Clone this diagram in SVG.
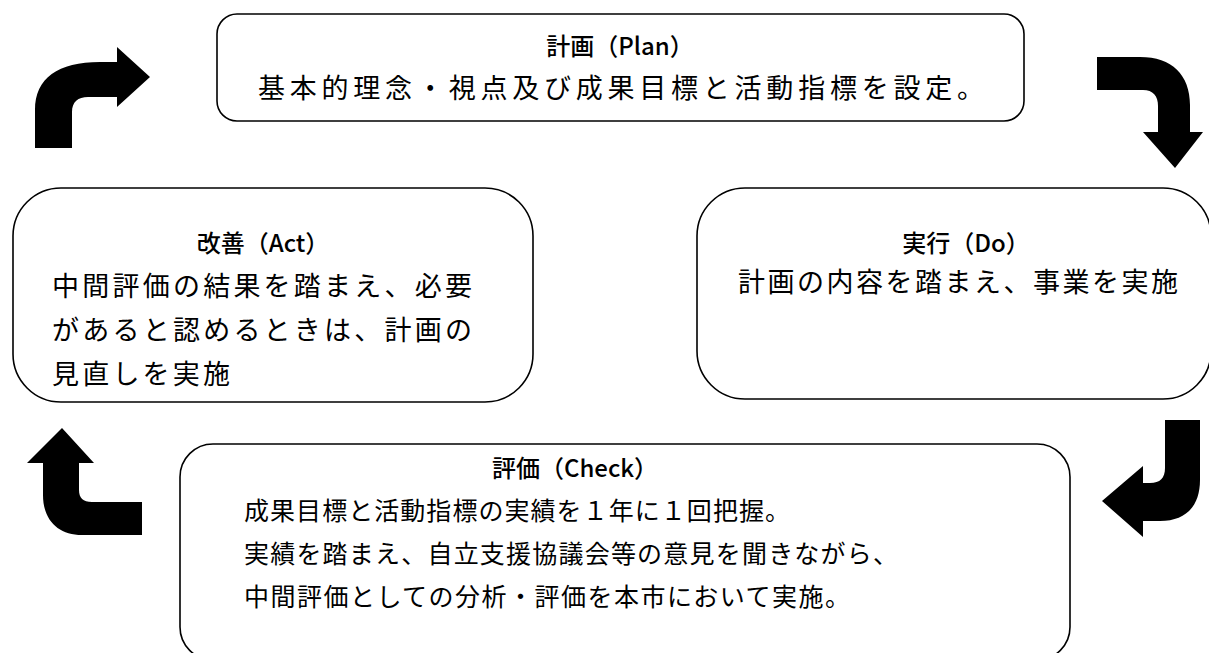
<svg xmlns="http://www.w3.org/2000/svg" width="1209" height="653" viewBox="0 0 1209 653">
<style>
.box{fill:#fff;stroke:#000;stroke-width:1.6}
.t{font-family:"Noto Sans CJK JP","Noto Sans",sans-serif;fill:#000;font-size:24px;font-weight:500;text-anchor:middle}
.b{font-family:"Noto Sans CJK JP","Noto Sans",sans-serif;fill:#000;font-size:27px}
.c{font-family:"Noto Sans CJK JP","Noto Sans",sans-serif;fill:#000;font-size:25px}
.arr{fill:#000;stroke:none}
</style>
<rect width="1209" height="653" fill="#fff"/>
<g id="connectors">
<path class="arr" d="M35,148 L35,110 C35,78 58,62 100,62 L117,62 L117,47 L150,77 L117,107 L117,97 L88,97 C78,97 72,102 72,112 L72,148 Z"/>
<path class="arr" d="M1097,57 L1140,57 C1172,57 1190,75 1190,105 L1190,132 L1203,132 L1175,168 L1143,132 L1158,132 L1158,106 C1158,96 1153,90 1143,90 L1097,90 Z"/>
<path class="arr" d="M1200,420 L1200,480 C1200,506 1186,521 1160,521 L1143,521 L1143,537 L1102,501 L1143,466 L1143,483 L1150,483 C1160,483 1165,478 1165,468 L1165,420 Z"/>
<path class="arr" d="M142,535 L82,535 C58,535 43,520 43,495 L43,463 L27,463 L62,428 L94,463 L79,463 L79,490 C79,498 83,502 92,502 L142,502 Z"/>
</g>
<g id="plan">
<rect class="box" x="217" y="14" width="807" height="107" rx="20"/>
<text class="t" x="620" y="55">計画（Plan）</text>
<text class="b" x="258" y="98" textLength="726" lengthAdjust="spacing">基本的理念・視点及び成果目標と活動指標を設定。</text>
</g>
<g id="act">
<rect class="box" x="13" y="188" width="520" height="214" rx="48"/>
<text class="t" x="263" y="252">改善（Act）</text>
<text class="b" x="52" y="296" textLength="420" lengthAdjust="spacing">中間評価の結果を踏まえ、必要</text>
<text class="b" x="52" y="340" textLength="420" lengthAdjust="spacing">があると認めるときは、計画の</text>
<text class="b" x="52" y="384" textLength="178" lengthAdjust="spacing">見直しを実施</text>
</g>
<g id="do">
<rect class="box" x="697" y="188" width="514" height="211" rx="48"/>
<text class="t" x="966" y="252">実行（Do）</text>
<text class="b" x="738" y="292" textLength="440" lengthAdjust="spacing">計画の内容を踏まえ、事業を実施</text>
</g>
<g id="check">
<rect class="box" x="180" y="444" width="890" height="216" rx="33"/>
<text class="t" x="575" y="477">評価（Check）</text>
<text class="c" x="244" y="520" textLength="546" lengthAdjust="spacing">成果目標と活動指標の実績を１年に１回把握。</text>
<text class="c" x="244" y="563" textLength="654" lengthAdjust="spacing">実績を踏まえ、自立支援協議会等の意見を聞きながら、</text>
<text class="c" x="244" y="606" textLength="606" lengthAdjust="spacing">中間評価としての分析・評価を本市において実施。</text>
</g>
</svg>
